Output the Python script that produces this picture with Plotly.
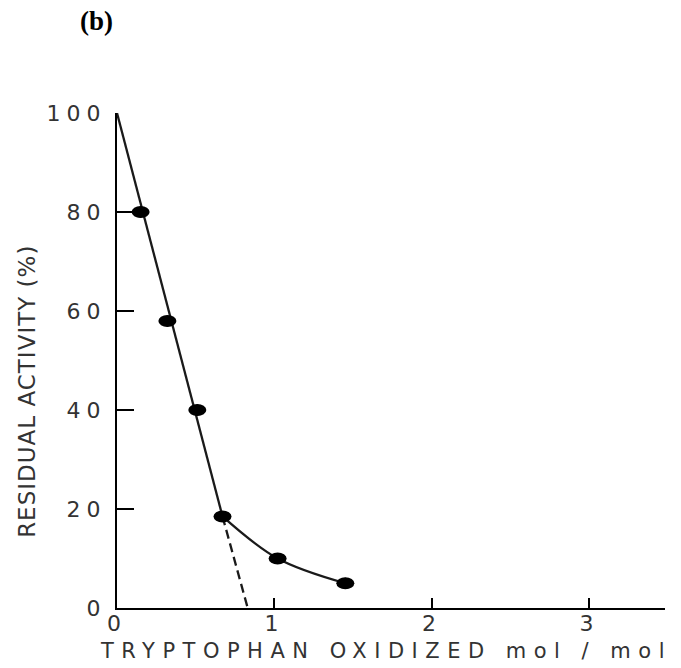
import plotly.graph_objects as go

# Residual activity after tryptophan oxidation
trp_oxidized = [0.15, 0.32, 0.51, 0.67, 1.02, 1.45]      # mol / mol
residual_activity = [80, 58, 40, 18.5, 10, 5]            # %

# Start of the inactivation curve (untreated enzyme)
start_x = [0.0]
start_y = [100.0]

# Index of the last point on the linear phase
linear_end = 3

# Linear phase extrapolated to zero activity
intercept_x = [0.83]
intercept_y = [0.0]

x_ticks = [0, 1, 2, 3]
y_ticks = [0, 20, 40, 60, 80, 100]

INK = "#1a1a1a"
AXIS = "#333333"
TEXT = "#333333"
FONT = "DejaVu Sans, Liberation Sans, Arial, sans-serif"


def spaced(text, px):
    """Wide technical lettering via tspan letter-spacing."""
    return "<span style='letter-spacing:%spx'>%s</span>" % (px, text)


linear_x = start_x + [trp_oxidized[linear_end]]
linear_y = start_y + [residual_activity[linear_end]]
tail_x = trp_oxidized[linear_end:]
tail_y = residual_activity[linear_end:]
extrap_x = [trp_oxidized[linear_end]] + intercept_x
extrap_y = [residual_activity[linear_end]] + intercept_y

fig = go.Figure()

fig.add_trace(go.Scatter(
    x=linear_x, y=linear_y, mode="lines", showlegend=False,
    line=dict(color=INK, width=2.3),
))
fig.add_trace(go.Scatter(
    x=tail_x, y=tail_y, mode="lines", showlegend=False,
    line=dict(color=INK, width=2.3, shape="spline", smoothing=1.0),
))
fig.add_trace(go.Scatter(
    x=extrap_x, y=extrap_y, mode="lines", showlegend=False,
    line=dict(color=INK, width=2.3, dash="9px,5px"),
))
fig.add_trace(go.Scatter(
    x=trp_oxidized, y=residual_activity, mode="markers", showlegend=False,
    marker=dict(color="black", size=11, line=dict(width=0)),
))

shapes = []
# Flattened (elliptical) data dots of the hand-drawn figure
for xv, yv in zip(trp_oxidized, residual_activity):
    shapes.append(dict(type="circle", xref="x", yref="y",
                       xsizemode="pixel", xanchor=xv, x0=-9, x1=9,
                       ysizemode="pixel", yanchor=yv, y0=-6, y1=6,
                       fillcolor="black", line=dict(width=0)))

fig.update_layout(
    width=681, height=668,
    margin=dict(l=117, r=16, t=113, b=60),
    plot_bgcolor="white",
    shapes=shapes,
    annotations=[
        dict(text=spaced("TRYPTOPHAN OXIDIZED mol / mol", 7.5), xref="paper", yref="paper",
             x=0.491, y=-0.086, xanchor="center", yanchor="middle", showarrow=False,
             font=dict(family=FONT, size=21, color=TEXT)),
        dict(text=spaced("RESIDUAL ACTIVITY (%)", 1), xref="paper", yref="paper",
             x=-0.163, y=0.438, xanchor="center", yanchor="middle", showarrow=False,
             textangle=-90, font=dict(family=FONT, size=23, color=TEXT)),
        dict(text="<b>(b)</b>", xref="paper", yref="paper",
             x=-0.038, y=1.186, xanchor="center", yanchor="middle", showarrow=False,
             font=dict(family="Liberation Serif, Times New Roman, serif", size=27, color="black")),
    ],
)

# Inward tick marks on both axes
fig.update_xaxes(range=[0, 3.48], tickvals=x_ticks,
                 ticktext=[spaced(str(v), 6) for v in x_ticks],
                 showline=True, linecolor="black", linewidth=2,
                 ticks="inside", ticklen=10, tickwidth=2, tickcolor="black",
                 showgrid=False, zeroline=False, ticklabelstandoff=-5,
                 tickfont=dict(family=FONT, size=22, color=TEXT))
fig.update_yaxes(range=[0, 100], tickvals=y_ticks,
                 ticktext=[spaced(str(v), 6) for v in y_ticks],
                 showline=True, linecolor="black", linewidth=2,
                 ticks="inside", ticklen=17, tickwidth=2, tickcolor="black",
                 showgrid=False, zeroline=False, ticklabelstandoff=4,
                 tickfont=dict(family=FONT, size=22, color=TEXT))

fig.write_html("out.html")
